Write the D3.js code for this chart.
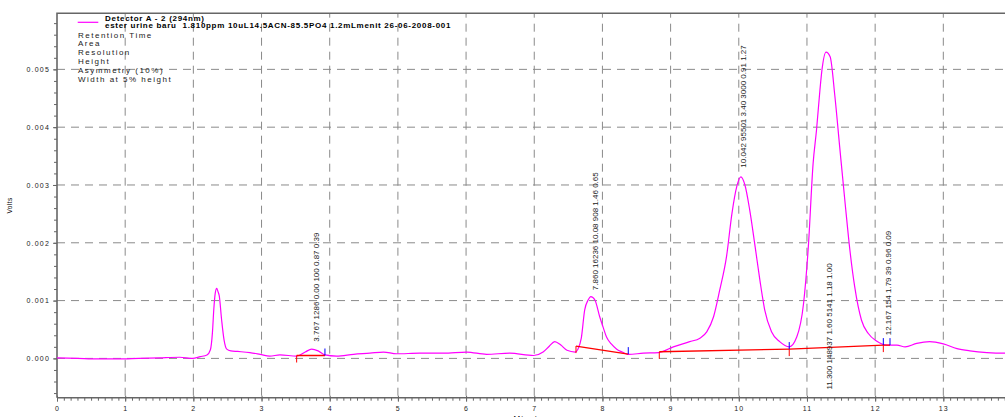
<!DOCTYPE html>
<html>
<head>
<meta charset="utf-8">
<script src="https://cdn.jsdelivr.net/npm/d3@7"></script>
<style>
  body { margin: 0; background: #fff; }
  svg { display: block; font-family: "Liberation Sans", Arial, sans-serif; }
</style>
</head>
<body>
<div id="chart"></div>
<script>
// chromatogram trace (minutes, volts)
var traceTime = [0.00, 0.30, 0.60, 0.90, 1.20, 1.50, 1.80, 1.99, 2.10, 2.20, 2.25, 2.28, 2.30, 2.32, 2.342, 2.36, 2.38, 2.415, 2.45, 2.49, 2.55, 2.65, 2.83, 2.98, 3.12, 3.27, 3.515,
  3.64, 3.735, 3.83, 3.93, 4.10, 4.35, 4.59, 4.79, 4.98, 5.32, 5.67, 6.01, 6.30, 6.64, 6.99, 7.13, 7.22, 7.30, 7.39, 7.48, 7.60,
  7.64, 7.69, 7.74, 7.79, 7.83, 7.89, 7.96, 8.01, 8.06, 8.13, 8.21, 8.29, 8.38, 8.60, 8.82, 9.04, 9.28, 9.43, 9.53, 9.63, 9.72,
  9.82, 9.90, 9.97, 10.03, 10.09, 10.16, 10.24, 10.31, 10.38, 10.48, 10.60, 10.74, 10.85, 10.95, 11.02, 11.09, 11.14, 11.19,
  11.22, 11.28, 11.34, 11.41, 11.48, 11.56, 11.63, 11.70, 11.80, 11.90, 12.02, 12.17, 12.32, 12.44, 12.61, 12.80, 13.00, 13.20,
  13.39, 13.64, 13.90, 14.00];
var traceVolts = [0.00001, 0.00000, -0.00001, -0.00001, 0.00000, 0.00001, 0.00002, 0.00000, 0.00003, 0.00006, 0.00015, 0.00045, 0.00085, 0.00112, 0.00121, 0.00116, 0.00108, 0.00066, 0.00032, 0.00016, 0.00013, 0.00012, 0.00010, 0.00007, 0.00004, 0.00006, 0.00004,
  0.00011, 0.00016, 0.00013, 0.00006, 0.00004, 0.00007, 0.00009, 0.00011, 0.00008, 0.00009, 0.00009, 0.00011, 0.00007, 0.00009, 0.00005, 0.00011, 0.00021, 0.00029, 0.00023, 0.00014, 0.00011,
  0.00016, 0.00035, 0.00084, 0.00101, 0.00107, 0.00101, 0.00072, 0.00054, 0.00037, 0.00025, 0.00016, 0.00011, 0.00007, 0.00009, 0.00010, 0.00020, 0.00029, 0.00035, 0.00046, 0.00072, 0.00118,
  0.00176, 0.00251, 0.00297, 0.00314, 0.00300, 0.00257, 0.00193, 0.00135, 0.00084, 0.00046, 0.00029, 0.00020, 0.00037, 0.00095, 0.00193, 0.00337, 0.00395, 0.00464,
  0.00499, 0.00530, 0.00522, 0.00453, 0.00366, 0.00268, 0.00187, 0.00124, 0.00066, 0.00043, 0.00030, 0.00023, 0.00023, 0.00020, 0.00026, 0.00029, 0.00025, 0.00017,
  0.00013, 0.00010, 0.00009, 0.00009];

// integration results: one label per peak
var peakRT = [3.767, 7.860, 10.042, 11.300, 12.167];
var peakText = [
  "3.767 1286 0.00 100 0.87 0.39",
  "7.860 16236 10.08 908 1.46 0.65",
  "10.042 95501 3.40 3000 0.91 1.27",
  "11.300 148937 1.60 5141 1.18 1.00",
  "12.167 154 1.79 39 0.96 0.09"
];
var labelStartV = [0.00029, 0.00118, 0.00330, -0.00054, 0.00040];

// drawn baselines (minutes, volts)
var baseLines = [
  [[3.515, 0.00005], [3.93, 0.00005]],
  [[7.612, 0.000213], [8.379, 0.000074]],
  [[8.834, 0.000114], [10.74, 0.000161], [12.12, 0.00023], [12.218, 0.00023]]
];
var peakStarts = [[3.515, 0.00005], [7.612, 0.000213], [8.834, 0.000114], [10.74, 0.000161], [12.12, 0.00023]];
var peakEnds = [[3.93, 0.00005], [8.379, 0.000074], [10.74, 0.000161], [12.12, 0.00023], [12.218, 0.00023]];

var xTickValues = [0, 1, 2, 3, 4, 5, 6, 7, 8, 9, 10, 11, 12, 13];
var yTickValues = [0, 0.001, 0.002, 0.003, 0.004, 0.005];
var yTickLabels = ["0.000", "0.001", "0.002", "0.003", "0.004", "0.005"];

var legendTitle = "Detector A - 2 (294nm)";
var legendSample = "ester urine baru  1.810ppm 10uL14.5ACN-85.5PO4 1.2mLmenit 26-06-2008-001";
var legendFields = ["Retention Time", "Area", "Resolution", "Height", "Asymmetry (10%)", "Width at 5% height"];

var W = 1005, H = 417;
var plotLeft = 57, plotRight = 1011.5, plotTop = 13.3, plotBottom = 397.7;

var x = d3.scaleLinear().domain([0, 14]).range([plotLeft, plotRight]);
var y = d3.scaleLinear().domain([-0.00068, 0.00597]).range([plotBottom, plotTop]);

var svg = d3.select("#chart").append("svg")
  .attr("width", W).attr("height", H);

svg.append("defs").append("clipPath").attr("id", "plotclip")
  .append("rect").attr("x", plotLeft).attr("y", plotTop)
  .attr("width", plotRight - plotLeft).attr("height", plotBottom - plotTop);

// grid
svg.append("g").selectAll("line").data(yTickValues).join("line")
  .attr("x1", plotLeft).attr("x2", plotRight)
  .attr("y1", function(d) { return y(d); }).attr("y2", function(d) { return y(d); })
  .style("stroke", "#8a8a8a").style("stroke-width", 1)
  .style("stroke-dasharray", "8,6");

svg.append("g").selectAll("line").data(xTickValues.slice(1)).join("line")
  .attr("x1", function(d) { return x(d); }).attr("x2", function(d) { return x(d); })
  .attr("y1", plotBottom - 2).attr("y2", plotTop)
  .style("stroke", "#8a8a8a").style("stroke-width", 1)
  .style("stroke-dasharray", "8,6");

// axes
var yAxis = d3.axisLeft(y).tickValues(yTickValues)
  .tickFormat(function(d, i) { return yTickLabels[i]; })
  .tickSize(4).tickPadding(3);
var yMinor = d3.axisLeft(y).tickValues(d3.range(-0.0006, 0.0059, 0.0002)).tickSize(3).tickFormat("");
var xAxis = d3.axisBottom(x).tickValues(xTickValues).tickSize(4).tickPadding(4);
var xMinor = d3.axisBottom(x).tickValues(d3.range(0.1, 14, 0.1)).tickSize(3).tickFormat("");

function styleAxis(g) {
  g.select(".domain").remove();
  g.selectAll("line").style("stroke", "#666");
  g.selectAll("text").style("font-size", "7px").style("letter-spacing", "1.2px")
    .style("fill", "#222").style("font-family", "'Liberation Sans', Arial, sans-serif");
}

svg.append("g").attr("transform", "translate(" + plotLeft + ",0)").call(yMinor).call(styleAxis);
svg.append("g").attr("transform", "translate(" + plotLeft + ",0)").call(yAxis).call(styleAxis);
svg.append("g").attr("transform", "translate(0," + plotBottom + ")").call(xMinor).call(styleAxis);
var xg = svg.append("g").attr("transform", "translate(0," + plotBottom + ")").call(xAxis).call(styleAxis);
xg.selectAll(".tick line").attr("y1", -2);

// frame
svg.append("path")
  .attr("d", "M" + plotLeft + "," + plotBottom + "V" + plotTop + "H" + plotRight + "M" + plotLeft + "," + plotBottom + "H" + plotRight)
  .style("fill", "none").style("stroke", "#666").style("stroke-width", 1.6);

// axis titles
svg.append("text").attr("x", (plotLeft + W) / 2).attr("y", 421).attr("text-anchor", "middle")
  .style("font-size", "8px").style("letter-spacing", "1px").text("Minutes");
svg.append("text").attr("transform", "translate(12," + ((plotTop + plotBottom) / 2) + ") rotate(-90)")
  .attr("text-anchor", "middle").style("font-size", "6.5px").style("letter-spacing", "0.4px").text("Volts");

// trace
var plot = svg.append("g").attr("clip-path", "url(#plotclip)");
var line = d3.line()
  .x(function(d, i) { return x(traceTime[i]); })
  .y(function(d) { return y(d); })
  .curve(d3.curveMonotoneX);
plot.append("path").datum(traceVolts).attr("d", line)
  .style("fill", "none").style("stroke", "#ff00ff").style("stroke-width", 1.2);

// baselines + start/end marks
var bline = d3.line().x(function(d) { return x(d[0]); }).y(function(d) { return y(d[1]); });
plot.selectAll(".base").data(baseLines).join("path").attr("class", "base")
  .attr("d", bline).style("fill", "none").style("stroke", "#ff0000").style("stroke-width", 1.4);
plot.selectAll(".pstart").data(peakStarts).join("line").attr("class", "pstart")
  .attr("x1", function(d) { return x(d[0]); }).attr("x2", function(d) { return x(d[0]); })
  .attr("y1", function(d) { return y(d[1]); }).attr("y2", function(d) { return y(d[1]) + 7; })
  .style("stroke", "#ff0000").style("stroke-width", 1);
plot.selectAll(".pend").data(peakEnds).join("line").attr("class", "pend")
  .attr("x1", function(d) { return x(d[0]); }).attr("x2", function(d) { return x(d[0]); })
  .attr("y1", function(d) { return y(d[1]); }).attr("y2", function(d) { return y(d[1]) - 7; })
  .style("stroke", "#0000ff").style("stroke-width", 1);

// peak labels, written upward
svg.append("g").selectAll("text").data(peakText).join("text")
  .attr("transform", function(d, i) {
    return "translate(" + (x(peakRT[i]) + 2) + "," + y(labelStartV[i]) + ") rotate(-90)";
  })
  .attr("dy", "0.35em")
  .style("font-size", "8px").style("fill", "#222").style("white-space", "pre")
  .text(function(d) { return d; });

// legend block
svg.append("line").attr("x1", 77.7).attr("x2", 98.3).attr("y1", 22.3).attr("y2", 22.3)
  .style("stroke", "#ff00ff").style("stroke-width", 1.2);
svg.append("text").attr("x", 105).attr("y", 20.7)
  .style("font-size", "8px").style("font-weight", "bold").style("letter-spacing", "0.7px")
  .text(legendTitle);
svg.append("text").attr("x", 105).attr("y", 28.3)
  .style("font-size", "8px").style("font-weight", "bold").style("letter-spacing", "0.7px")
  .style("white-space", "pre").text(legendSample);
svg.append("g").selectAll("text").data(legendFields).join("text")
  .attr("x", 78).attr("y", function(d, i) { return 37.7 + i * 8.76; })
  .style("font-size", "8px").style("letter-spacing", "1.5px").style("fill", "#222")
  .text(function(d) { return d; });
</script>
</body>
</html>
